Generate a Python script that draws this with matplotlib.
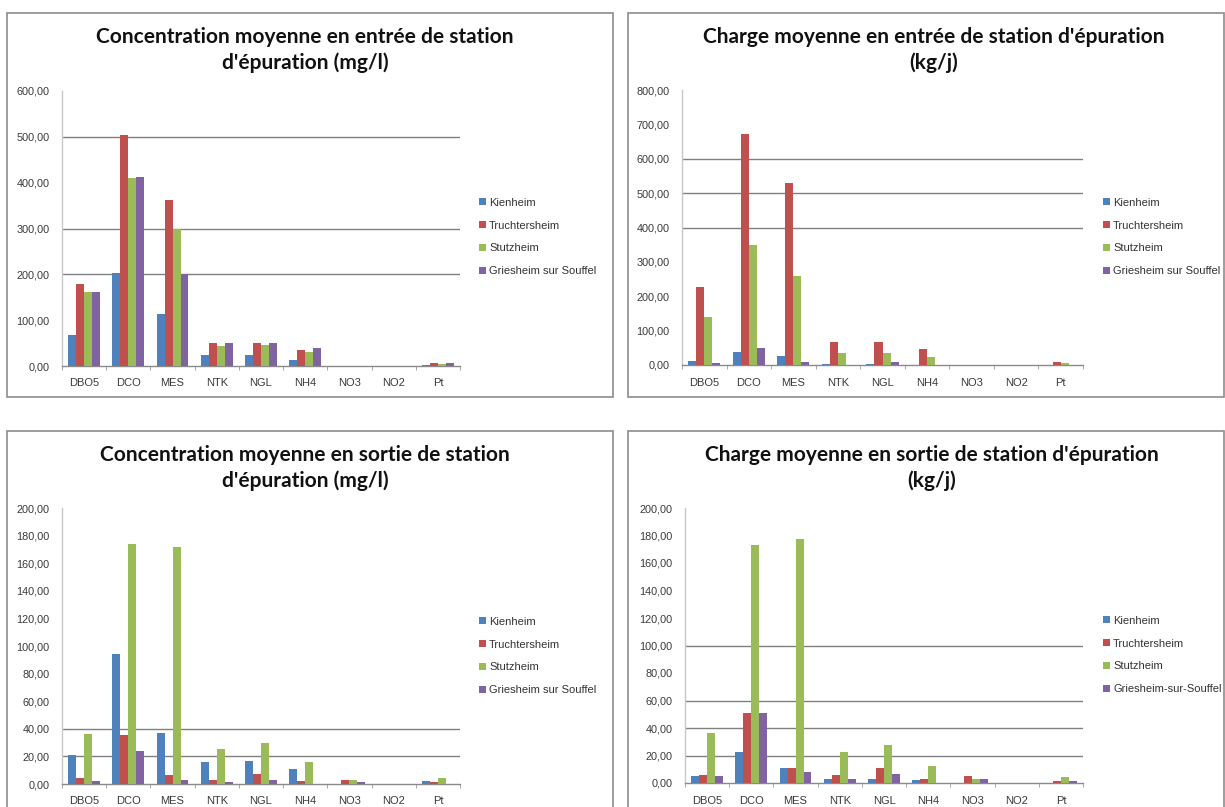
import matplotlib
matplotlib.use("Agg")
import matplotlib.pyplot as plt
from matplotlib.patches import Rectangle
import numpy as np

categories = ["DBO5", "DCO", "MES", "NTK", "NGL", "NH4", "NO3", "NO2", "Pt"]
stations = ["Kienheim", "Truchtersheim", "Stutzheim", "Griesheim sur Souffel"]
stations_br = ["Kienheim", "Truchtersheim", "Stutzheim", "Griesheim-sur-Souffel"]

# Concentration moyenne en entrée (mg/l)
conc_in_kienheim = [67, 203, 114, 25, 25, 14, 0, 0, 2]
conc_in_truchtersheim = [178, 505, 363, 50, 50, 36, 0, 0, 7]
conc_in_stutzheim = [162, 410, 300, 44, 45, 30, 0, 0, 5]
conc_in_griesheim = [162, 413, 200, 50, 50, 39, 0, 0, 7]

# Charge moyenne en entrée (kg/j)
load_in_kienheim = [13, 38, 27, 4, 4, 0, 0, 0, 0]
load_in_truchtersheim = [228, 672, 530, 68, 68, 46, 0, 0, 8]
load_in_stutzheim = [139, 348, 258, 34, 34, 23, 0, 0, 5]
load_in_griesheim = [5, 49, 8, 0, 8, 0, 0, 0, 0]

# Concentration moyenne en sortie (mg/l)
conc_out_kienheim = [21, 94, 36.7, 16, 17, 10.6, 0, 0, 2]
conc_out_truchtersheim = [4, 35.5, 6.8, 3, 7, 2, 3, 0, 1.2]
conc_out_stutzheim = [36.5, 174, 171.5, 25.4, 30, 16, 3, 0, 4.3]
conc_out_griesheim = [2.4, 23.7, 3, 1.2, 3, 0, 1.2, 0, 0]

# Charge moyenne en sortie (kg/j)
load_out_kienheim = [5, 22.5, 10.7, 3, 3, 2, 0, 0, 0]
load_out_truchtersheim = [5.8, 50.7, 10.7, 5.8, 10.7, 3, 5, 0, 1.2]
load_out_stutzheim = [36.6, 173.3, 177.2, 22.5, 27.4, 12.4, 3, 0, 4.1]
load_out_griesheim = [5, 50.7, 7.8, 3, 6.8, 0, 3, 0, 1.2]

colors = ["#4F81BD", "#C0504D", "#9BBB59", "#8064A2"]

W, H = 1225, 807
fig = plt.figure(figsize=(W / 100, H / 100), dpi=100)
fig.patch.set_facecolor("white")

TITLE_FONT = ["Lato", "DejaVu Sans"]
TEXT_FONT = ["Liberation Sans", "DejaVu Sans"]


def fx(x):
    return x / W


def fy(y):
    return 1 - y / H


def panel_box(x0, y0, x1, y1):
    fig.patches.append(Rectangle((fx(x0), fy(y1)), fx(x1) - fx(x0), fy(y0) - fy(y1),
                                 transform=fig.transFigure, fill=False,
                                 edgecolor="#8c8c8c", linewidth=1.2))


def draw_panel(rect_px, series, labels, ymax, ystep, grid_vals, title, title_cx, title_y,
               legend_xy):
    left, top, right, bottom = rect_px
    ax = fig.add_axes([fx(left), fy(bottom), fx(right) - fx(left), fy(top) - fy(bottom)])
    x = np.arange(len(categories))
    bw = 0.18
    handles = []
    for i, (vals, lab) in enumerate(zip(series, labels)):
        b = ax.bar(x + (i - 1.5) * bw, vals, width=bw, color=colors[i], label=lab,
                   zorder=3, linewidth=0)
        handles.append(b)
    ax.set_xlim(-0.5, len(categories) - 0.5)
    ax.set_ylim(0, ymax)
    ticks = np.arange(0, ymax + ystep / 2, ystep)
    ax.set_yticks(ticks)
    ax.set_yticklabels([f"{v:.2f}".replace(".", ",") for v in ticks],
                       fontsize=7.8, color="#3a3a3a", family=TEXT_FONT)
    for g in grid_vals:
        ax.axhline(g, color="#808080", linewidth=1.0, zorder=1)
    ax.set_xticks(x)
    ax.set_xticklabels(categories, fontsize=8, color="#3a3a3a", family=TEXT_FONT)
    ax.set_xticks(np.arange(-0.5, len(categories) + 0.5, 1), minor=True)
    ax.tick_params(axis="x", which="major", length=0, pad=9)
    ax.tick_params(axis="x", which="minor", length=3, color="#9a9a9a", direction="out")
    ax.tick_params(axis="y", length=0, pad=9)
    for s in ["top", "right"]:
        ax.spines[s].set_visible(False)
    ax.spines["left"].set_color("#c8c8c8")
    ax.spines["bottom"].set_color("#8a8a8a")
    ax.spines["left"].set_linewidth(1.0)
    ax.spines["bottom"].set_linewidth(1.0)
    ax.set_facecolor("none")

    fig.text(fx(title_cx), fy(title_y), title, ha="center", va="center", fontsize=15,
             fontweight="bold", family=TITLE_FONT, color="#111111", linespacing=1.3)

    ax.legend(handles=handles, loc="center left",
              bbox_to_anchor=(fx(legend_xy[0]), fy(legend_xy[1])),
              bbox_transform=fig.transFigure, frameon=False,
              handlelength=0.6, handleheight=0.6, handletextpad=0.3,
              labelspacing=1.15, borderpad=0, borderaxespad=0,
              prop={"family": TEXT_FONT, "size": 8}, labelcolor="#333333")
    return ax


# panel frames
panel_box(7, 13, 613, 397)
panel_box(628, 13, 1224, 397)
panel_box(7, 431, 613, 812)
panel_box(628, 431, 1224, 812)

draw_panel((62, 91, 460, 366),
           [conc_in_kienheim, conc_in_truchtersheim, conc_in_stutzheim, conc_in_griesheim],
           stations, 600, 100, [200, 300, 500],
           "Concentration moyenne en entrée de station\nd'épuration (mg/l)", 305, 50,
           (479, 237))

draw_panel((682, 90, 1083, 365),
           [load_in_kienheim, load_in_truchtersheim, load_in_stutzheim, load_in_griesheim],
           stations, 800, 100, [400, 500, 600],
           "Charge moyenne en entrée de station d'épuration\n(kg/j)", 934, 50,
           (1103, 237))

draw_panel((62, 508, 460, 784),
           [conc_out_kienheim, conc_out_truchtersheim, conc_out_stutzheim, conc_out_griesheim],
           stations, 200, 20, [20, 40],
           "Concentration moyenne en sortie de station\nd'épuration (mg/l)", 305, 468,
           (479, 656))

draw_panel((685, 508, 1083, 783),
           [load_out_kienheim, load_out_truchtersheim, load_out_stutzheim, load_out_griesheim],
           stations_br, 200, 20, [20, 40, 60, 100],
           "Charge moyenne en sortie de station d'épuration\n(kg/j)", 932, 468,
           (1103, 655))

fig.savefig("out.png", dpi=100, facecolor="white")
